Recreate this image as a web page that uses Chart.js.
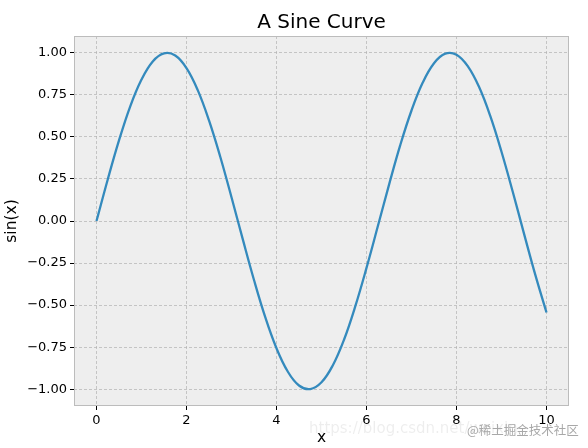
<!DOCTYPE html>
<html>
<head>
<meta charset="utf-8">
<script src="https://cdn.jsdelivr.net/npm/chart.js@4/dist/chart.umd.min.js"></script>
<style>
  html, body { margin: 0; padding: 0; background: #fff; }
  #wrap { width: 588px; height: 448px; }
</style>
</head>
<body>
<div id="wrap"><canvas id="sineChart" width="588" height="448"></canvas></div>
<script>
// values
const xValues = [0, 0.25, 0.5, 0.75, 1, 1.25, 1.5, 1.75, 2, 2.25, 2.5, 2.75, 3, 3.25, 3.5, 3.75,
  4, 4.25, 4.5, 4.75, 5, 5.25, 5.5, 5.75, 6, 6.25, 6.5, 6.75, 7, 7.25, 7.5, 7.75,
  8, 8.25, 8.5, 8.75, 9, 9.25, 9.5, 9.75, 10];
const sinValues = [0, 0.247, 0.479, 0.682, 0.841, 0.949, 0.997, 0.984, 0.909, 0.778, 0.598, 0.382,
  0.141, -0.108, -0.351, -0.572, -0.757, -0.895, -0.978, -0.999, -0.959, -0.859, -0.706, -0.508,
  -0.279, -0.033, 0.215, 0.451, 0.657, 0.823, 0.938, 0.995, 0.989, 0.921, 0.798, 0.625,
  0.412, 0.174, -0.075, -0.319, -0.544];
const xTicks = [0, 2, 4, 6, 8, 10];
const yTicks = [-1, -0.75, -0.5, -0.25, 0, 0.25, 0.5, 0.75, 1];
const titleText = "A Sine Curve";

const points = xValues.map((x, i) => ({ x: x, y: sinValues[i] }));
const font = "'DejaVu Sans', sans-serif";

// grey panel, box, title over the axes and the watermarks
const panel = {
  id: "panel",
  beforeDraw(chart) {
    const { ctx, chartArea: a } = chart;
    ctx.save();
    ctx.fillStyle = "#eeeeee";
    ctx.fillRect(a.left, a.top, a.right - a.left, a.bottom - a.top);
    ctx.restore();
  },
  afterDraw(chart) {
    const { ctx, chartArea: a } = chart;
    ctx.save();
    ctx.strokeStyle = "#bcbcbc";
    ctx.lineWidth = 1;
    ctx.strokeRect(a.left + 0.5, a.top + 0.5, a.right - a.left - 1, a.bottom - a.top - 1);

    // title centred on the axes, not the canvas
    ctx.fillStyle = "#000";
    ctx.font = "20px " + font;
    ctx.textAlign = "center";
    ctx.textBaseline = "alphabetic";
    ctx.fillText(titleText, (a.left + a.right) / 2, 28);

    // watermarks
    ctx.textAlign = "left";
    ctx.textBaseline = "middle";
    ctx.font = "15px " + font;
    ctx.fillStyle = "rgba(0,0,0,0.07)";
    ctx.fillText("https://blog.csdn.net/weixin", 309, 429);
    ctx.font = "12.5px 'Noto Sans CJK SC', sans-serif";
    ctx.fillStyle = "#a8a8a8";
    ctx.fillText("@稀土掘金技术社区", 467, 430);
    ctx.restore();
  },
};

const ctx = document.getElementById("sineChart").getContext("2d");
const sineChart = new Chart(ctx, {
  type: "line",
  data: {
    datasets: [
      {
        data: points,
        borderColor: "#348ABD",
        borderWidth: 2.3,
        pointRadius: 0,
        tension: 0.4,
        fill: false,
      },
    ],
  },
  options: {
    responsive: false,
    animation: false,
    layout: { padding: { left: 0, right: 19, top: 36, bottom: 1 } },
    plugins: {
      legend: { display: false },
      tooltip: { enabled: false },
      title: { display: false },
    },
    scales: {
      x: {
        type: "linear",
        min: -0.5,
        max: 10.5,
        afterBuildTicks: (s) => { s.ticks = xTicks.map((v) => ({ value: v })); },
        afterFit: (s) => { s.height = 41; },
        grid: { color: "#b2b2b2", lineWidth: 0.7, tickColor: "#000", tickLength: 4, tickWidth: 1 },
        border: { display: false, dash: [3, 2] },
        ticks: { color: "#000", padding: 3, font: { family: font, size: 13 }, maxRotation: 0 },
        title: { display: true, text: "x", color: "#000", font: { family: font, size: 15.5 }, padding: { top: 0, bottom: 0 } },
      },
      y: {
        type: "linear",
        min: -1.1,
        max: 1.1,
        afterBuildTicks: (s) => { s.ticks = yTicks.map((v) => ({ value: v })); },
        afterFit: (s) => { s.width = 74; },
        grid: { color: "#b2b2b2", lineWidth: 0.7, tickColor: "#000", tickLength: 4, tickWidth: 1 },
        border: { display: false, dash: [3, 2] },
        ticks: {
          color: "#000",
          padding: 3,
          font: { family: font, size: 13 },
          callback: (v) => v.toFixed(2).replace("-", "\u2212"),
        },
        title: { display: true, text: "sin(x)", color: "#000", font: { family: font, size: 15.5 }, padding: { top: 3, bottom: 0 } },
      },
    },
  },
  plugins: [panel],
});
</script>
</body>
</html>
